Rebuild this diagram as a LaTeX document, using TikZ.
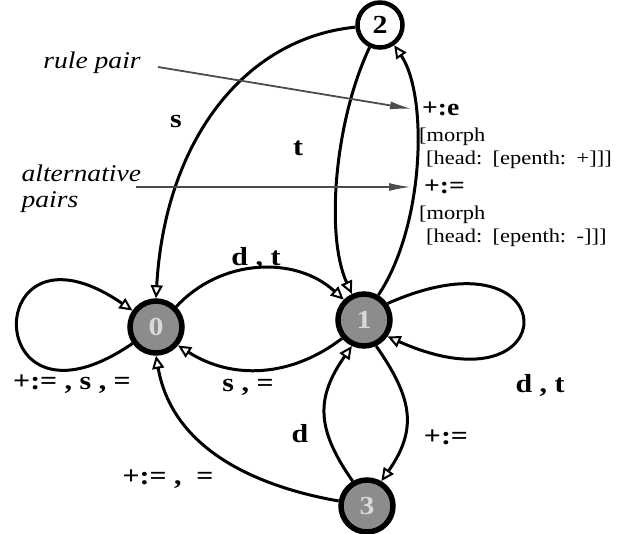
\documentclass[tikz,border=0pt]{standalone}
\usepackage{fontspec}
\setmainfont{Liberation Serif}[FakeStretch=1.15]
\usetikzlibrary{arrows.meta}
\begin{document}
\begin{tikzpicture}[x=1pt,y=1pt,
    fsaState/.style={circle,draw,line width=5.5pt,minimum size=52pt,inner sep=0pt,fill=black!45,text=black!15,font=\bfseries\fontsize{26}{26}\selectfont},
    fsaHead/.style={fsaState,fill=white,text=black,line width=4.5pt,minimum size=45pt},
    fsaEdge/.style={line width=3pt,-{Triangle[length=13pt,width=12pt,fill=white,line width=2pt]}},
    fsaLab/.style={font=\bfseries\fontsize{26}{26}\selectfont},
    fsaNote/.style={font=\itshape\fontsize{24}{26}\selectfont,align=left},
    fsaFeat/.style={font=\fontsize{19.5}{19.5}\selectfont,anchor=west,inner sep=0pt},
    fsaPair/.style={font=\bfseries\fontsize{24}{24}\selectfont,anchor=west,inner sep=0pt},
    fsaPtr/.style={line width=1.8pt,black!70,-{Latex[length=22pt,width=8pt]}},
]
\useasboundingbox (0,0) rectangle (629,-534);
% States
\node[fsaHead] (q2) at (380,-25) {2};
\node[fsaState] (q0) at (156,-327) {0};
\node[fsaState] (q1) at (364,-320) {1};
\node[fsaState] (q3) at (367,-506) {3};
% Self loops
\draw[fsaEdge] (q0.215) .. controls +(-153,-105) and +(-153,105) .. (q0.145);
\draw[fsaEdge] (q1.35) .. controls +(180,80) and +(180,-80) .. (q1.325);
% Transitions
\draw[fsaEdge] (q0.45) to[bend left=45] (q1.135);
\draw[fsaEdge] (q1.220) to[bend left=35] (q0.320);
\draw[fsaEdge] (q2.185) .. controls (245,-38) and (165,-140) .. (q0.90);
\draw[fsaEdge] (q2.245) .. controls (335,-120) and (325,-235) .. (q1.115);
\draw[fsaEdge] (q1.60) .. controls (425,-225) and (428,-95) .. (q2.305);
\draw[fsaEdge] (q3.170) to[out=170,in=280] (q0.270);
\draw[fsaEdge] (q3.120) to[out=125,in=235,looseness=1.2] (q1.245);
\draw[fsaEdge] (q1.295) to[out=-55,in=55,looseness=1.2] (q3.60);
% Labels
\node[fsaLab] (lS) at (176,-122) {s};
\node[fsaLab] (lT) at (298,-148) {t};
\node[fsaLab] (lDTa) at (256,-258) {d , t};
\node[fsaLab] (lSE) at (248,-387) {s , =};
\node[fsaLab] (lLoop0) at (72,-384) {+:= , s , =};
\node[fsaLab] (lDTb) at (540,-385) {d , t};
\node[fsaLab] (lD) at (300,-434) {d};
\node[fsaLab] (lPE) at (446,-437) {+:=};
\node[fsaLab] (lPEE) at (168,-479) {+:= ,\ \ =};
% Rule pairs
\node[fsaPair] (pairE) at (422,-109) {+:e};
\node[fsaFeat] (morphE) at (419,-137) {[morph};
\node[fsaFeat] (headE) at (426,-160) {[head:\hspace{3pt} [epenth:\hspace{3pt} +]]]};
\node[fsaPair] (pairEq) at (424,-187) {+:=};
\node[fsaFeat] (morphEq) at (419,-215) {[morph};
\node[fsaFeat] (headEq) at (426,-238) {[head:\hspace{3pt} [epenth:\hspace{3pt} -]]]};
% Notes
\node[fsaNote] (rulePair) at (92,-63) {rule pair};
\node[fsaNote,anchor=west] (altPairs) at (18,-189) {alternative\\pairs};
\coordinate (ruleTip) at (412,-109);
\coordinate (altTip) at (411,-187);
\draw[fsaPtr] (158,-67) -- (ruleTip);
\draw[fsaPtr] (136,-187) -- (altTip);
\end{tikzpicture}
\end{document}
